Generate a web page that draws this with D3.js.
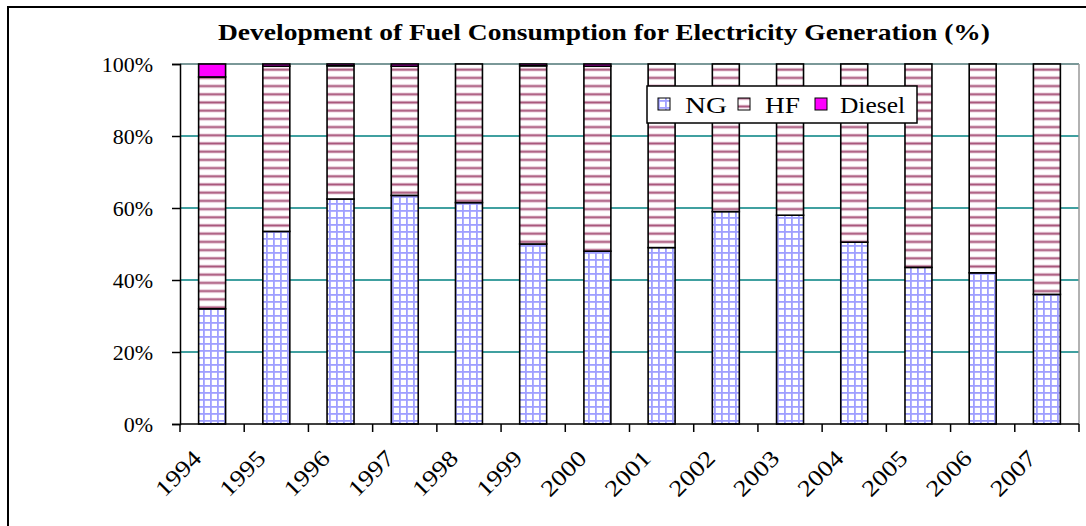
<!DOCTYPE html>
<html>
<head>
<meta charset="utf-8">
<script src="https://cdn.jsdelivr.net/npm/d3@7/dist/d3.min.js"></script>
<style>
  html, body { margin: 0; padding: 0; background: #fff; }
  svg { display: block; font-family: "Liberation Serif", "Times New Roman", serif; }
</style>
</head>
<body>
<div id="chart"></div>
<script>
"use strict";

/* ── Data (percent of fuel consumption) ── */
const years  = ["1994","1995","1996","1997","1998","1999","2000","2001","2002","2003","2004","2005","2006","2007"];
const ngVals = [32, 53.5, 62.5, 63.5, 61.5, 50, 48, 49, 59, 58, 50.5, 43.5, 42, 36];
const hfVals = [64.4, 45.9, 37, 35.9, 38.5, 49.5, 51.4, 51, 41, 42, 49.5, 56.5, 58, 64];
const dieselVals = [3.6, 0.6, 0.5, 0.6, 0, 0.5, 0.6, 0, 0, 0, 0, 0, 0, 0];
const seriesKeys = ["NG", "HF", "Diesel"];
const yTicks = [0, 20, 40, 60, 80, 100];

const rows = years.map((yr, i) => ({ year: yr, NG: ngVals[i], HF: hfVals[i], Diesel: dieselVals[i] }));

/* ── Dimensions ── */
const W = 1086, H = 526;
const plot = { left: 180, right: 1079, top: 64, bottom: 424 };

const svg = d3.select("#chart").append("svg")
  .attr("width", W).attr("height", H);

/* ── Patterns ── */
const defs = svg.append("defs");
const pNG = defs.append("pattern")
  .attr("id", "pat-ng").attr("patternUnits", "userSpaceOnUse")
  .attr("width", 7).attr("height", 7);
pNG.append("rect").attr("width", 7).attr("height", 7).attr("fill", "#fff");
pNG.append("rect").attr("x", 0).attr("y", 0).attr("width", 7).attr("height", 1.8).attr("fill", "#9f9fff");
pNG.append("rect").attr("x", 0).attr("y", 0).attr("width", 1.8).attr("height", 7).attr("fill", "#9f9fff");

const pHF = defs.append("pattern")
  .attr("id", "pat-hf").attr("patternUnits", "userSpaceOnUse")
  .attr("width", 8).attr("height", 8.2);
pHF.append("rect").attr("width", 8).attr("height", 8.2).attr("fill", "#fff");
pHF.append("rect").attr("y", 2.4).attr("width", 8).attr("height", 3.4).attr("fill", "#e8c8d8");
pHF.append("rect").attr("y", 3.2).attr("width", 8).attr("height", 1.8).attr("fill", "#a9587c");

const fills = { NG: "url(#pat-ng)", HF: "url(#pat-hf)", Diesel: "#ff00ff" };

/* ── Outer frame ── */
svg.append("rect")
  .attr("x", 8).attr("y", 7).attr("width", W + 20).attr("height", H + 20)
  .attr("fill", "none").attr("stroke", "#000").attr("stroke-width", 2);

/* ── Title ── */
svg.append("text")
  .attr("x", 604).attr("y", 40)
  .attr("text-anchor", "middle")
  .attr("font-size", "24px").attr("font-weight", "bold")
  .attr("textLength", 772).attr("lengthAdjust", "spacingAndGlyphs")
  .text("Development of Fuel Consumption for Electricity Generation (%)");

/* ── Scales ── */
const x = d3.scaleBand()
  .domain(years)
  .range([plot.left, plot.right])
  .paddingInner(0.58).paddingOuter(0.29);

const y = d3.scaleLinear()
  .domain([0, 100])
  .range([plot.bottom, plot.top]);

/* ── Gridlines ── */
svg.append("g")
  .selectAll("line")
  .data(yTicks.filter(d => d > 0))
  .join("line")
  .attr("x1", plot.left).attr("x2", plot.right)
  .attr("y1", d => y(d)).attr("y2", d => y(d))
  .attr("stroke", d => d === 100 ? "#7a9898" : "#008080")
  .attr("stroke-width", d => d === 100 ? 2 : 1.3);

/* right border of plot area */
svg.append("line")
  .attr("x1", plot.right).attr("x2", plot.right)
  .attr("y1", plot.top).attr("y2", plot.bottom)
  .attr("stroke", "#999").attr("stroke-width", 1.5);

/* ── Bars ── */
const stacked = d3.stack().keys(seriesKeys)(rows);

svg.append("g")
  .selectAll("g")
  .data(stacked)
  .join("g")
  .attr("fill", d => fills[d.key])
  .selectAll("rect")
  .data(d => d.filter(s => s[1] - s[0] > 0))
  .join("rect")
  .attr("x", d => x(d.data.year))
  .attr("y", d => y(d[1]))
  .attr("width", x.bandwidth())
  .attr("height", d => y(d[0]) - y(d[1]))
  .attr("stroke", "#000")
  .attr("stroke-width", 1.6);

/* ── Y axis ── */
svg.append("g")
  .attr("transform", `translate(${plot.left},0)`)
  .call(d3.axisLeft(y).tickValues(yTicks).tickFormat(d => d + "%").tickSize(8).tickPadding(19))
  .call(g => {
    g.select(".domain").attr("stroke", "#000").attr("stroke-width", 1.5);
    g.selectAll(".tick line").attr("stroke", "#000").attr("stroke-width", 1.5);
    g.selectAll(".tick text")
      .attr("font-family", "Liberation Serif, serif")
      .attr("font-size", "22px").attr("fill", "#000");
  });

/* ── X axis (ticks between categories) ── */
const step = x.step();
const boundaries = d3.range(years.length + 1).map(i => plot.left + i * step);

const xAxis = svg.append("g");
xAxis.append("line")
  .attr("x1", plot.left).attr("x2", plot.right)
  .attr("y1", plot.bottom).attr("y2", plot.bottom)
  .attr("stroke", "#000").attr("stroke-width", 1.5);
xAxis.selectAll(".xtick")
  .data(boundaries)
  .join("line")
  .attr("class", "xtick")
  .attr("x1", d => d).attr("x2", d => d)
  .attr("y1", plot.bottom).attr("y2", plot.bottom + 8)
  .attr("stroke", "#000").attr("stroke-width", 1.5);
xAxis.selectAll(".xlabel")
  .data(years)
  .join("text")
  .attr("class", "xlabel")
  .attr("transform", d => `translate(${x(d) + x.bandwidth() / 2 - 15},454) rotate(-45)`)
  .attr("text-anchor", "end")
  .attr("dy", "0.35em")
  .attr("font-size", "23px")
  .attr("textLength", 54).attr("lengthAdjust", "spacingAndGlyphs")
  .text(d => d);

/* ── Legend ── */
const legend = svg.append("g").attr("transform", "translate(647,86)");
legend.append("rect")
  .attr("width", 270).attr("height", 37)
  .attr("fill", "#fff").attr("stroke", "#000").attr("stroke-width", 1.5);

const legendX = [11, 91, 168];
const legendW = [42, 35, 65];
const item = legend.selectAll(".item")
  .data(seriesKeys)
  .join("g")
  .attr("class", "item")
  .attr("transform", (d, i) => `translate(${legendX[i]},0)`);
item.append("rect")
  .attr("y", 12).attr("width", 12).attr("height", 12)
  .attr("fill", d => fills[d])
  .attr("stroke", "#000").attr("stroke-width", 1);
item.append("text")
  .attr("x", (d, i) => i === 2 ? 25 : 27).attr("y", 27)
  .attr("font-size", "24px")
  .attr("textLength", (d, i) => legendW[i]).attr("lengthAdjust", "spacingAndGlyphs")
  .text(d => d);
</script>
</body>
</html>
